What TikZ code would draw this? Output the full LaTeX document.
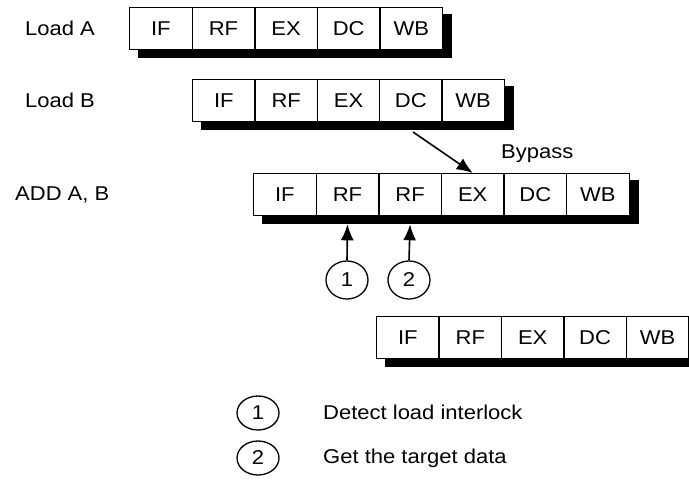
\documentclass[tikz,border=0pt]{standalone}
\usepackage{fontspec}
\setmainfont{Liberation Sans}[FakeStretch=1.1]
\usetikzlibrary{arrows.meta,calc,shapes.geometric,backgrounds}
\begin{document}
\begin{tikzpicture}[x=1pt,y=-1pt,
  txt/.style={font=\fontsize{20}{22}\selectfont},
  cell/.style={txt,draw=black,line width=1.3pt,fill=white,minimum width=62.5pt,minimum height=42pt,inner sep=0pt,anchor=north west},
  lbl/.style={txt,anchor=base west,inner sep=0pt},
  num/.style={txt,draw=black,line width=1.3pt,ellipse,minimum width=42pt,minimum height=38pt,inner sep=0pt},
  lnum/.style={num,minimum height=34pt},
  shadow/.style={fill=black},
  arr/.style={line width=1.6pt,-{Latex[length=16pt,width=13pt]}}
]
\useasboundingbox (0,0) rectangle (689,485);
\clip (0,0) rectangle (689,485);

% row labels
\node[lbl] (la) at (25,35) {Load A};
\node[lbl] (lb) at (25,107) {Load B};
\node[lbl] (ld) at (15,200) {ADD A, B};
\node[lbl] (byp) at (501,158) {Bypass};

% rows
\foreach \t [count=\i] in {IF,RF,EX,DC,WB}
  \node[cell] (a\i) at ({129+62.6*(\i-1)},7) {\t};
\foreach \t [count=\i] in {IF,RF,EX,DC,WB}
  \node[cell] (b\i) at ({192+62.3*(\i-1)},79) {\t};
\foreach \t [count=\i] in {IF,RF,RF,EX,DC,WB}
  \node[cell] (d\i) at ({253+62.6*(\i-1)},173) {\t};
\foreach \t [count=\i] in {IF,RF,EX,DC,WB}
  \node[cell] (e\i) at ({376+62.4*(\i-1)},316) {\t};

% shadows
\begin{scope}[on background layer]
  \fill[shadow] ($(a1.north west)+(9,7)$) rectangle ($(a5.south east)+(9,8)$);
  \fill[shadow] ($(b1.north west)+(9,7)$) rectangle ($(b5.south east)+(9,8)$);
  \fill[shadow] ($(d1.north west)+(9,7)$) rectangle ($(d6.south east)+(9,8)$);
  \fill[shadow] ($(e1.north west)+(9,7)$) rectangle ($(e5.south east)+(9,8)$);
\end{scope}

% bypass arrow
\coordinate (bp) at (413,132);
\draw[arr] (bp) -- (d4.north);

% markers
\node[num] (n1) at (347,280) {1};
\node[num] (n2) at (409,280) {2};
\draw[arr] (n1.north) -- ($(d2.south)+(0,8)$);
\draw[arr] (n2.north) -- ($(d3.south)+(0,8)$);

% legend
\node[lnum] (l1) at (258,413) {1};
\node[lnum] (l2) at (258,458) {2};
\node[lbl] (t1) at (323,419) {Detect load interlock};
\node[lbl] (t2) at (323,463) {Get the target data};
\end{tikzpicture}
\end{document}
